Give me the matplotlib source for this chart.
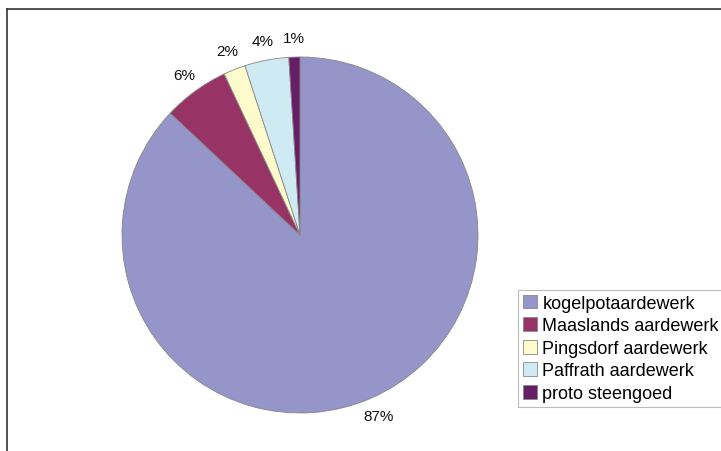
import matplotlib.pyplot as plt

plt.rcParams['font.family'] = ['Liberation Sans', 'DejaVu Sans']

labels = ['kogelpotaardewerk', 'Maaslands aardewerk', 'Pingsdorf aardewerk',
          'Paffrath aardewerk', 'proto steengoed']
values = [87, 6, 2, 4, 1]
colors = ['#9595c9', '#983366', '#fdfbcc', '#cfeaf2', '#661e66']

fig = plt.figure(figsize=(7.21, 4.52), dpi=100)

# frame (cut off at right and bottom like the original)
fig.add_artist(plt.Line2D([7/721, 1.0], [1 - 10/452, 1 - 10/452], color='#333333', lw=1.2,
                          transform=fig.transFigure))
fig.add_artist(plt.Line2D([7/721, 7/721], [0.0, 1 - 10/452], color='#333333', lw=1.2,
                          transform=fig.transFigure))

ax = fig.add_axes([122/721, 38/452, 356/721, 356/452])
wedges, texts = ax.pie(values, colors=colors, startangle=90, counterclock=False,
                       labels=[f'{v}%' for v in values], labeldistance=1.11,
                       wedgeprops=dict(edgecolor='#888888', linewidth=0.6),
                       textprops=dict(fontsize=11, color='#111111'))
ax.set_xlim(-1, 1)
ax.set_ylim(-1, 1)
ax.set_aspect('equal')
for t in texts:
    t.set_clip_on(False)
    t.set_ha('center')
    t.set_va('center')

leg = fig.legend(wedges, labels, loc='upper left', bbox_to_anchor=(518/721, 1 - 291/452),
                 fontsize=13, frameon=True, fancybox=False, edgecolor='#aaaaaa',
                 handlelength=0.8, handleheight=0.8, handletextpad=0.3,
                 labelspacing=0.3, borderpad=0.25, borderaxespad=0)
leg.get_frame().set_linewidth(0.8)

fig.savefig('out.png', dpi=100)
